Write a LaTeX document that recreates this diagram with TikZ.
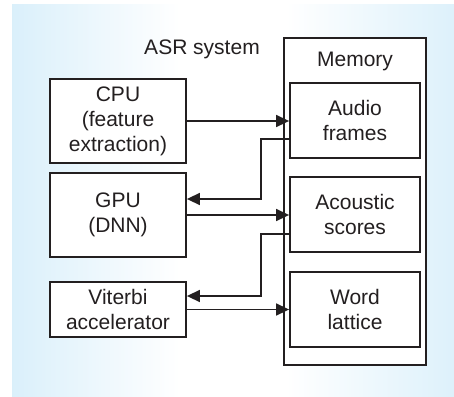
\documentclass[tikz,border=0pt]{standalone}
\usepackage{fontspec}
\setmainfont{Liberation Sans}
\usetikzlibrary{arrows.meta,calc}
\definecolor{bgblue}{RGB}{198,231,248}
\definecolor{ink}{RGB}{35,31,32}
\pgfdeclarehorizontalshading{glow}{100bp}{color(0bp)=(bgblue); color(22bp)=(bgblue!75!white);
  color(44bp)=(white); color(56bp)=(white); color(80bp)=(bgblue!75!white); color(100bp)=(bgblue)}
\tikzset{
  unit/.style={draw=ink, line width=1.8pt, fill=white, align=center,
    inner sep=0pt, font=\fontsize{21}{25}\selectfont, text=ink},
  arr/.style={draw=ink, line width=1.5pt, -{Triangle[length=13pt,width=12pt]}}
}
\begin{document}
\begin{tikzpicture}[x=1pt,y=-1pt]
  % Fond
  \useasboundingbox (0,0) rectangle (454,396);
  \shade[shading=glow] (12,5) rectangle (454,396);

  % Mémoire
  \node[unit, line width=1.5pt, minimum width=142pt, minimum height=327pt] (mem) at (355,201.5) {};
  \node[font=\fontsize{21}{25}\selectfont, text=ink] (memlabel) at (355,61) {Memory};
  \node[unit, minimum width=130pt, minimum height=75pt] (audio) at (355,120.5) {Audio\\frames};
  \node[unit, minimum width=130pt, minimum height=75pt] (scores) at (355,214.5) {Acoustic\\scores};
  \node[unit, minimum width=130pt, minimum height=75pt] (lattice) at (355,309.5) {Word\\lattice};

  % Système ASR
  \node[font=\fontsize{21}{25}\selectfont, text=ink] (asr) at (202,49) {ASR system};
  \node[unit, minimum width=136pt, minimum height=84pt] (cpu) at (118,121) {CPU\\(feature\\extraction)};
  \node[unit, minimum width=136pt, minimum height=84pt] (gpu) at (118,215) {GPU\\(DNN)};
  \node[unit, minimum width=136pt, minimum height=55pt] (viterbi) at (118,309.5) {Viterbi\\accelerator};

  % Liaisons
  \coordinate (bus) at (261,0);
  \draw[arr] (cpu.east) -- (cpu.east -| audio.west);
  \draw[arr] (gpu.east) -- (gpu.east -| scores.west);
  \draw[arr] (viterbi.east) -- (viterbi.east -| lattice.west);
  \draw[arr] ([yshift=-18.5pt]audio.west) -| (bus |- gpu.north) |- ([yshift=16pt]gpu.east);
  \draw[arr] ([yshift=-19.5pt]scores.west) -| (bus |- viterbi.north) |- ([yshift=13.5pt]viterbi.east);
\end{tikzpicture}
\end{document}
